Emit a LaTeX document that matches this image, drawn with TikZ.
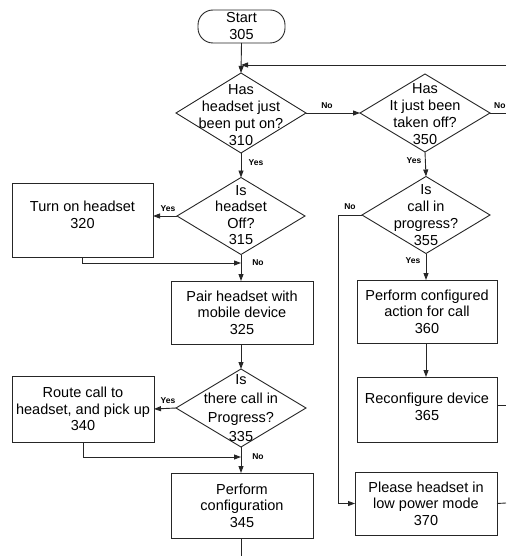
\documentclass[tikz,border=0pt]{standalone}
\usepackage{fontspec}
\setmainfont{Liberation Sans}
\usetikzlibrary{shapes.geometric,arrows.meta}
\begin{document}
\begin{tikzpicture}[x=1pt,y=-1pt,
  every node/.style={inner sep=0pt,outer sep=0pt},
  line/.style={draw=black!85,line width=0.9pt},
  arr/.style={line,-{Triangle[length=7pt,width=5pt]}},
  procbox/.style={draw=black!85,line width=0.9pt,rectangle,align=center,
    font=\fontsize{14.5}{16.5}\selectfont,minimum width=#1},
  procbox/.default=141,
  decision/.style={draw=black!85,line width=0.9pt,diamond,minimum width=130,minimum height=78},
  dtext/.style={align=center,font=\fontsize{14.5}{17}\selectfont},
  ptext/.style={align=center,font=\fontsize{14.5}{16.5}\selectfont},
  lbl/.style={font=\fontsize{8.5}{10}\selectfont\bfseries}]
\useasboundingbox (0,0) rectangle (506,556);

% terminal
\node[draw=black!85,line width=0.9pt,rounded corners=15pt,minimum width=87,minimum height=33,
  align=center,font=\fontsize{14.5}{17}\selectfont] (start) at (241.5,26.5) {Start\\305};

% left column decisions
\node[decision,minimum height=80] (d310) at (241,113) {};
\node[dtext] (t310) at (241,115) {Has\\headset just\\been put on?\\310};
\node[decision,minimum width=128,minimum height=77] (d315) at (241,216) {};
\node[dtext,font=\fontsize{14.5}{16.5}\selectfont] (t315) at (241,215) {Is\\headset\\Off?\\315};
\node[decision] (d335) at (241,408) {};
\node[dtext,font=\fontsize{14.5}{19}\selectfont] (t335) at (241,408) {Is\\there call in\\Progress?\\335};

% right column decisions
\node[decision] (d350) at (425,113) {};
\node[dtext] (t350) at (425,114) {Has\\It just been\\taken off?\\350};
\node[decision,minimum width=128,minimum height=77] (d355) at (426,215) {};
\node[dtext] (t355) at (426,215) {Is\\call in\\progress?\\355};

% process boxes
\node[procbox,minimum height=74] (b320) at (82.5,220) {};
\node[ptext] (t320) at (82.5,215) {Turn on headset\\320};
\node[procbox=142,minimum height=63] (b325) at (242,312.5) {Pair headset with\\mobile device\\325};
\node[procbox=142,minimum height=66] (b340) at (83,409) {Route call to\\headset, and pick up\\340};
\node[procbox=142,minimum height=65] (b345) at (242,505.5) {Perform\\configuration\\345};
\node[procbox=140,minimum height=63] (b360) at (427,311.5) {Perform configured\\action for call\\360};
\node[procbox=140,minimum height=65] (b365) at (427,409.5) {};
\node[ptext] (t365) at (427,407) {Reconfigure device\\365};
\node[procbox=142,minimum height=63] (b370) at (426,503.5) {Please headset in\\low power mode\\370};

% loose ends and junctions
\coordinate (fbR) at (506,65);
\coordinate (fbJ) at (241,65);
\coordinate (r350) at (506,113);
\coordinate (j315) at (241,263);
\coordinate (j335) at (241,457);
\coordinate (k355) at (338,215);
\coordinate (r365) at (506,405);
\coordinate (r370) at (506,503);
\coordinate (bot) at (241,556);

% connectors
\draw[arr] (start.south) -- (d310.north);
\draw[arr] (fbR) -- (fbJ);
\draw[arr] (d310.east) -- (d350.west);
\draw[line] (d350.east) -- (r350);
\draw[arr] (d310.south) -- (d315.north);
\draw[arr] (d315.west) -- (b320.east |- d315.west);
\draw[arr] (b320.south) |- (j315);
\draw[arr] (d315.south) -- (b325.north -| d315.south);
\draw[arr] (b325.south -| d315.south) -- (d335.north);
\draw[arr] (d335.west) -- (b340.east);
\draw[arr] (b340.south) |- (j335);
\draw[arr] (d335.south) -- (b345.north -| d335.south);
\draw[line] (b345.south -| d335.south) -- (bot);
\draw[arr] (d350.south) -- (d355.north);
\draw[arr] (d355.south) -- (b360.north -| d355.south);
\draw[arr] (b360.south -| d355.south) -- (b365.north -| d355.south);
\draw[arr] (d355.west) -- (k355) |- (b370.west);
\draw[line] (b365.east |- r365) -- (r365);
\draw[line] (b370.east) -- (r370);

% branch labels
\node[lbl] (n310) at (327,106) {No};
\node[lbl,anchor=east] (n350) at (505.5,106) {No};
\node[lbl] (y310) at (256,163) {Yes};
\node[lbl] (y315) at (168,209) {Yes};
\node[lbl] (n315) at (258,263) {No};
\node[lbl] (y335) at (168,401) {Yes};
\node[lbl] (n335) at (258,457) {No};
\node[lbl] (y350) at (414,161) {Yes};
\node[lbl] (y355) at (413,261) {Yes};
\node[lbl] (n355) at (350,207) {No};
\end{tikzpicture}
\end{document}
